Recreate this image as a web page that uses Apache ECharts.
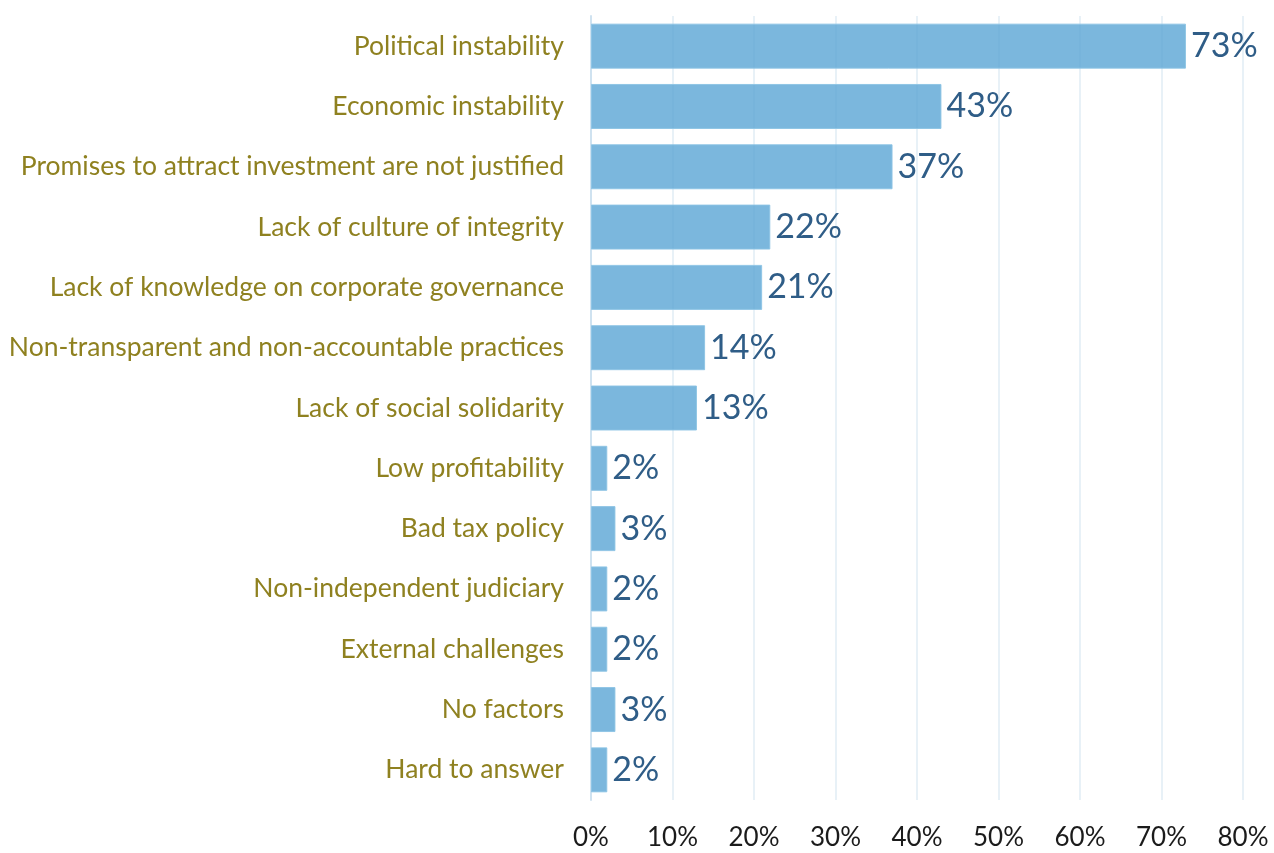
<!DOCTYPE html>
<html>
<head>
<meta charset="utf-8">
<script src="https://cdn.jsdelivr.net/npm/echarts@6/dist/echarts.min.js"></script>
<style>
  html, body { margin: 0; padding: 0; background: #fff; }
  #chart { width: 1274px; height: 853px; }
</style>
</head>
<body>
<div id="chart"></div>
<script>
// Factors hindering investment, share of respondents (%)
const categories = [
  'Political instability',
  'Economic instability',
  'Promises to attract investment are not justified',
  'Lack of culture of integrity',
  'Lack of knowledge on corporate governance',
  'Non-transparent and non-accountable practices',
  'Lack of social solidarity',
  'Low profitability',
  'Bad tax policy',
  'Non-independent judiciary',
  'External challenges',
  'No factors',
  'Hard to answer'
];
const values = [73, 43, 37, 22, 21, 14, 13, 2, 3, 2, 2, 3, 2];
const xTicks = [0, 10, 20, 30, 40, 50, 60, 70, 80];

const chart = echarts.init(document.getElementById('chart'));
chart.setOption({
  animation: false,
  grid: { left: 591, right: 31, top: 16, bottom: 53, containLabel: false },
  xAxis: {
    type: 'value',
    min: xTicks[0],
    max: xTicks[xTicks.length - 1],
    interval: 10,
    axisLine: { show: false },
    axisTick: { show: false },
    splitLine: { show: true, lineStyle: { color: '#E1ECF5', width: 1.5 } },
    axisLabel: {
      margin: 25,
      fontFamily: 'Lato',
      fontSize: 26,
      color: '#1b1b1b',
      formatter: v => v + '%'
    }
  },
  yAxis: {
    type: 'category',
    data: categories,
    inverse: true,
    axisLine: { show: true, lineStyle: { color: '#CFE2F0', width: 2 } },
    axisTick: { show: false },
    axisLabel: {
      margin: 27,
      fontFamily: 'Lato',
      fontSize: 26.5,
      color: '#8F8120'
    }
  },
  series: [{
    type: 'bar',
    data: values,
    barWidth: 45,
    itemStyle: {
      color: 'rgba(100,170,215,0.85)',
      borderColor: 'rgba(140,195,228,0.9)',
      borderWidth: 1
    },
    label: {
      show: true,
      position: 'right',
      distance: 5,
      fontFamily: 'Lato',
      fontSize: 34,
      color: '#2F5D87',
      formatter: p => p.value + '%'
    }
  }]
});
</script>
</body>
</html>
